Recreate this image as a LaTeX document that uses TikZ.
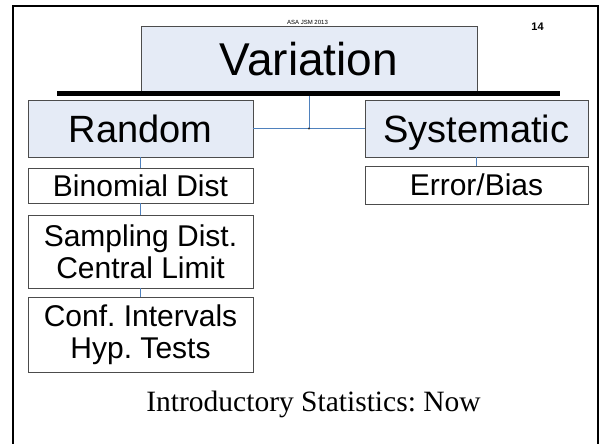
\documentclass[tikz,border=0pt]{standalone}
\usepackage{fontspec}
\setmainfont{Liberation Serif}
\setsansfont{Liberation Sans}
\usepackage{tikz}
\usetikzlibrary{positioning, calc}
\frenchspacing
\definecolor{pale_blue}{RGB}{229,235,246}
\definecolor{link_blue}{RGB}{79,129,189}
\tikzset{
  top_box/.style={rectangle, draw=black!70, fill=pale_blue, inner sep=0pt, minimum width=336pt, minimum height=65pt, text height=33pt, text depth=0pt, font=\sffamily\fontsize{46}{48}\selectfont},
  branch_box/.style={rectangle, draw=black!70, fill=pale_blue, inner sep=0pt, minimum width=225pt, minimum height=57pt, text height=27pt, text depth=0pt, font=\sffamily\fontsize{38}{40}\selectfont},
  leaf_box/.style={rectangle, draw=black!70, fill=white, inner sep=0pt, minimum width=225pt, align=center, font=\sffamily\fontsize{30}{32}\selectfont},
  one_line/.style={text height=21.5pt, text depth=0pt},
  link/.style={-, draw=link_blue, line width=0.9pt},
  frame_line/.style={draw=black, line width=2.5pt},
  small_label/.style={font=\sffamily\fontsize{6}{7}\selectfont},
  page_label/.style={font=\sffamily\bfseries\fontsize{11}{12}\selectfont},
  caption_text/.style={font=\rmfamily\fontsize{29.5}{31}\selectfont}
}

\begin{document}
\begin{tikzpicture}[x=1pt, y=-1pt]
    \useasboundingbox (0,0) rectangle (602,444);

    % slide frame, runs off the bottom edge
    \draw[frame_line] (13,450) -- (13,6) -- (598,6) -- (598,450);

    % header texts
    \node[small_label](header) at (307.5,22) {ASA JSM 2013};
    \node[page_label](pagenum) at (537.5,27) {14};

    % top of the tree
    \node[top_box](variation) at (309,58.5) {Variation};

    % the two kinds
    \node[branch_box](random) at (140.5,128.5) {Random};
    \node[branch_box, minimum width=223pt](systematic) at (476.5,128.5) {Systematic};

    % topics under each kind
    \node[leaf_box, one_line, minimum height=35pt](binomial) at (140.5,185.5) {Binomial Dist};
    \node[leaf_box, minimum height=73pt](sampling) at (140.5,251.5) {Sampling Dist.\\Central Limit};
    \node[leaf_box, minimum height=75pt](intervals) at (140.5,334.5) {Conf. Intervals\\Hyp. Tests};
    \node[leaf_box, one_line, minimum width=223pt, minimum height=38pt](bias) at (476.5,185) {Error/Bias};

    % links
    \coordinate (junction) at (variation.south |- random.east);
    \draw[link] (variation.south) -- (junction);
    \draw[link] (random.east) -- (systematic.west);
    \fill[black!80] (junction) circle (1.1pt);
    \draw[link] (random.south) -- (binomial.north);
    \draw[link] (binomial.south) -- (sampling.north);
    \draw[link] (sampling.south) -- (intervals.north);
    \draw[link] (systematic.south) -- (bias.north);

    % heavy rule under the title box
    \fill[black] (57,91) rectangle (560,96);

    % caption
    \node[caption_text](caption) at (313.5,404) {Introductory Statistics: Now};
\end{tikzpicture}
\end{document}
